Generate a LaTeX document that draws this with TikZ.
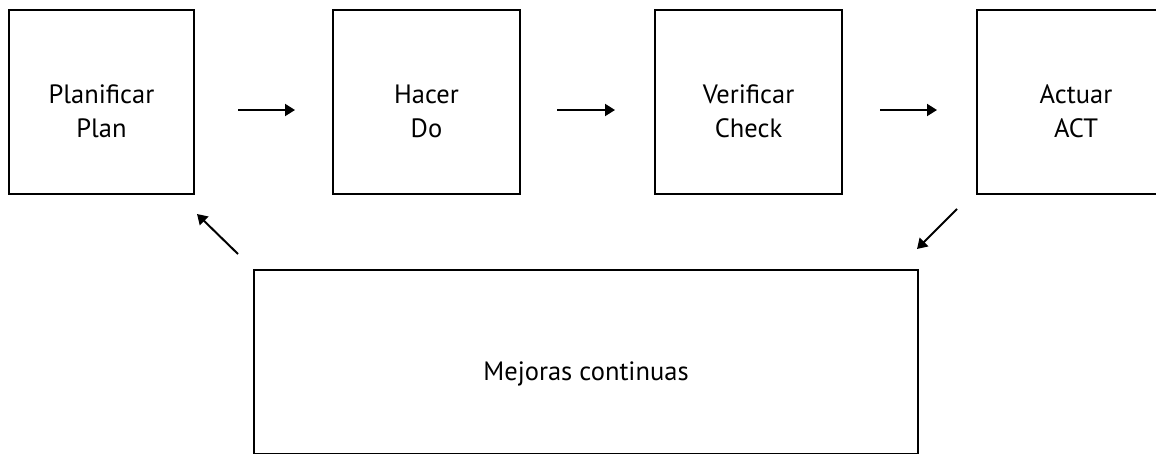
\documentclass[tikz,border=0pt]{standalone}
\usepackage{fontspec}
\setmainfont{PT Sans}
\usetikzlibrary{arrows.meta}
\begin{document}
\begin{tikzpicture}[x=1pt,y=-1pt,
  box/.style={draw=black,line width=2pt,minimum height=184pt,inner sep=0pt,outer sep=0pt},
  lbl/.style={align=center,font=\fontsize{26.5}{34}\selectfont,inner sep=0pt},
  arr/.style={draw=black,line width=2pt,-{Triangle[length=10pt,width=12pt]}}]
\useasboundingbox (0,0) rectangle (1156,453);
\clip (0,0) rectangle (1156,453);
\node[box,minimum width=185pt] (b1) at (101.5,102) {};
\node[box,minimum width=187pt] (b2) at (426.5,102) {};
\node[box,minimum width=187pt] (b3) at (748.5,102) {};
\node[box,minimum width=200pt] (b4) at (1077,102) {};
\node[box,minimum width=664pt,minimum height=184pt] (m) at (586,362) {};
\node[lbl] (t1) at ([yshift=-9pt]b1.center) {Planificar\\Plan};
\node[lbl] (t2) at ([yshift=-9pt]b2.center) {Hacer\\Do};
\node[lbl] (t3) at ([yshift=-9pt]b3.center) {Verificar\\Check};
\node[lbl] (t4) at ([yshift=-9pt,xshift=-1pt]b4.center) {Actuar\\ACT};
\node[lbl] (tm) at ([yshift=-12pt]m.center) {Mejoras continuas};
\draw[arr] ([shift={(44,8)}]b1.east) -- ([shift={(-38,8)}]b2.west);
\draw[arr] ([shift={(37,8)}]b2.east) -- ([shift={(-40,8)}]b3.west);
\draw[arr] ([shift={(38,8)}]b3.east) -- ([shift={(-40,8)}]b4.west);
\coordinate (s1) at ([shift={(-16,-16)}]m.north west);
\coordinate (e1) at ([shift={(3,20)}]b1.south east);
\draw[arr] (s1) -- (e1);
\coordinate (s2) at ([shift={(-20,15)}]b4.south west);
\coordinate (e2) at ([shift={(-1,-21)}]m.north east);
\draw[arr] (s2) -- (e2);
\end{tikzpicture}
\end{document}
